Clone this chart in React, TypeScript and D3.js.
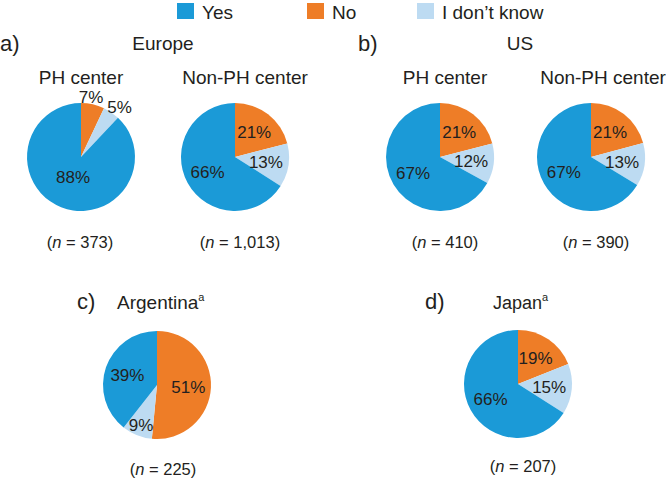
import React from "react";
import * as d3 from "d3";

// answer categories, in the order the slices run clockwise from 12 o'clock
const answers = ["No", "I don't know", "Yes"];
const legendOrder = ["Yes", "No", "I don't know"];

// one entry per pie: Europe PH, Europe non-PH, US PH, US non-PH, Argentina, Japan
const noValues = [7, 21, 21, 21, 51, 19];
const dontKnowValues = [5, 13, 12, 13, 9, 15];
const yesValues = [88, 66, 67, 67, 39, 66];
const sampleSizes = ["373", "1,013", "410", "390", "225", "207"];
const centerLabels = ["PH center", "Non-PH center", "PH center", "Non-PH center", "", ""];

const panelLetters = ["a)", "b)", "c)", "d)"];
const panelTitles = ["Europe", "US", "Argentina", "Japan"];
const titleFootnotes = ["", "", "a", "a"];

const colors: Record<string, string> = {
  Yes: "#1b9ad7",
  No: "#ee7d27",
  "I don't know": "#bddbf2",
};

const W = 666;
const H = 480;
const R = 54;
const font = "'Liberation Sans', Arial, Helvetica, sans-serif";
const ink = "#231f20";

// pie layout (centre of each pie, and where its caption sits)
const pieX = [81, 235, 440, 591, 157, 518];
const pieY = [157, 157, 157, 157, 385, 384];
const subLabelX = [81, 245, 445, 603];
const nLabelX = [80, 240, 445, 596, 163, 523];
const nLabelY = [248, 248, 248, 248, 475, 472];

const pie = d3
  .pie<{ key: string; value: number }>()
  .sort(null)
  .value((d) => d.value);

const arc = d3.arc<d3.PieArcDatum<{ key: string; value: number }>>()
  .innerRadius(0)
  .outerRadius(R);

const labelRadius = (v: number) => {
  if (v < 8) return R + 9;
  if (v < 10) return R * 0.8;
  if (v > 80) return R * 0.4;
  return R * 0.58;
};

const Pie = ({ i }: { i: number }) => {
  const data = [
    { key: answers[0], value: noValues[i] },
    { key: answers[1], value: dontKnowValues[i] },
    { key: answers[2], value: yesValues[i] },
  ];
  const arcs = pie(data);
  return (
    <g transform={`translate(${pieX[i]},${pieY[i]})`}>
      {arcs.map((a) => (
        <path key={a.data.key} d={arc(a) || ""} fill={colors[a.data.key]} />
      ))}
      {arcs.map((a) => {
        const lr = labelRadius(a.data.value);
        let [x, y] = d3.arc<any>().innerRadius(lr).outerRadius(lr).centroid(a);
        if (lr > R) {
          // spread the small outside labels apart a little
          const mid = (a.startAngle + a.endAngle) / 2;
          x += (Math.sin(mid) - 0.4) * 20;
          y += 1.5;
        }
        return (
          <text
            key={"l" + a.data.key}
            x={x}
            y={y}
            dy="0.36em"
            textAnchor="middle"
            fontSize={17}
            fill={ink}
          >
            {a.data.value}%
          </text>
        );
      })}
    </g>
  );
};

export default function App() {
  const legendX = d3.scaleOrdinal<string, number>().domain(legendOrder).range([177, 307, 417]);
  const titleX = [163, 520];
  const letterX = [0, 358];

  return (
    <svg
      width={W}
      height={H}
      style={{ position: "absolute", left: 0, top: 0, background: "#fff" }}
      fontFamily={font}
    >
      {/* legend */}
      {legendOrder.map((k) => (
        <g key={k} transform={`translate(${legendX(k)},3)`}>
          <rect width={17} height={16} fill={colors[k]} />
          <text x={25} y={16} fontSize={19} fill={ink}>
            {k === "I don't know" ? "I don\u2019t know" : k}
          </text>
        </g>
      ))}

      {/* top row titles */}
      {[0, 1].map((p) => (
        <g key={"t" + p}>
          <text x={letterX[p]} y={51} fontSize={22} fill={ink}>
            {panelLetters[p]}
          </text>
          <text x={titleX[p]} y={50} fontSize={19} textAnchor="middle" fill={ink}>
            {panelTitles[p]}
          </text>
        </g>
      ))}
      {centerLabels.slice(0, 4).map((s, i) => (
        <text key={"c" + i} x={subLabelX[i]} y={84} fontSize={19} textAnchor="middle" fill={ink}>
          {s}
        </text>
      ))}

      {/* bottom row titles */}
      <text x={77} y={309} fontSize={22} fill={ink}>
        {panelLetters[2]}
      </text>
      <text x={117} y={309} fontSize={19} fill={ink}>
        {panelTitles[2]}
        <tspan fontSize={11} dy={-8}>
          {titleFootnotes[2]}
        </tspan>
      </text>
      <text x={425} y={309} fontSize={22} fill={ink}>
        {panelLetters[3]}
      </text>
      <text x={493} y={309} fontSize={18} fill={ink}>
        {panelTitles[3]}
        <tspan fontSize={11} dy={-8}>
          {titleFootnotes[3]}
        </tspan>
      </text>

      {yesValues.map((_, i) => (
        <Pie key={i} i={i} />
      ))}

      {sampleSizes.map((n, i) => (
        <text key={"n" + i} x={nLabelX[i]} y={nLabelY[i]} fontSize={16.5} textAnchor="middle" fill={ink}>
          (<tspan fontStyle="italic">n</tspan> = {n})
        </text>
      ))}
    </svg>
  );
}
